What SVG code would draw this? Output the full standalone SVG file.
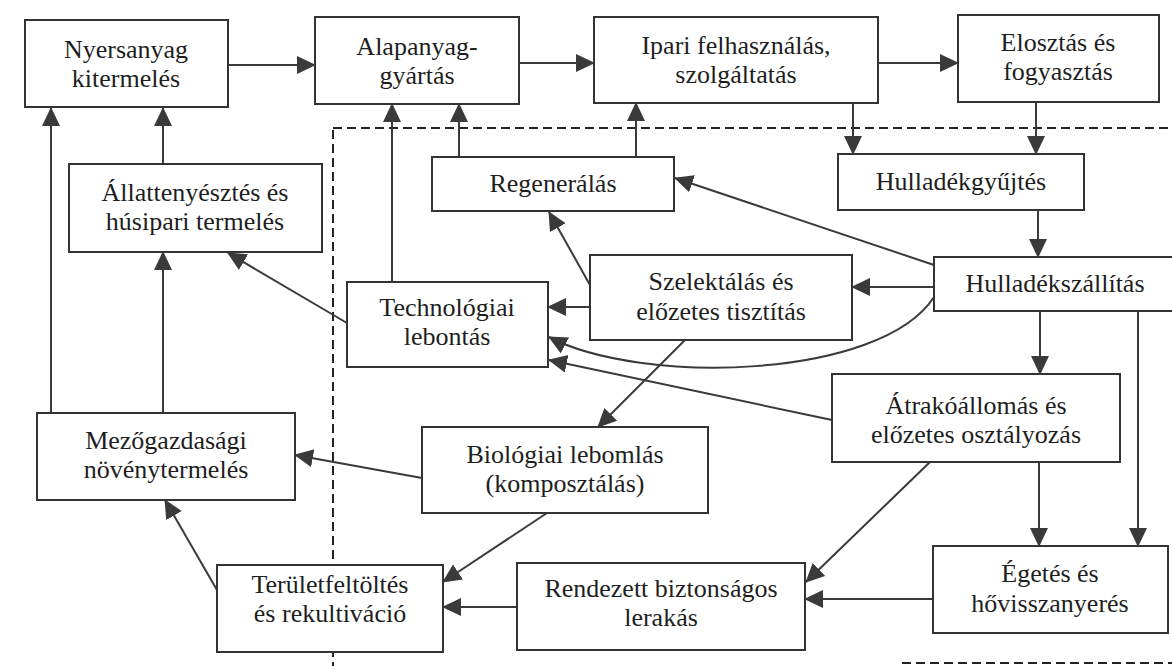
<svg xmlns="http://www.w3.org/2000/svg" width="1172" height="666" viewBox="0 0 1172 666" font-family="'Liberation Serif', 'DejaVu Serif', serif">
<style>
.box{fill:#fff;stroke:#333;stroke-width:2}
text{font-family:'Liberation Serif','DejaVu Serif',serif;font-size:26px;fill:#1e1e1e;text-anchor:middle}
.c{fill:none;stroke:#3a3a3a;stroke-width:2;marker-end:url(#ah)}
.d{fill:none;stroke:#222;stroke-width:2;stroke-dasharray:9 5}
</style>
<defs>
<marker id="ah" markerUnits="userSpaceOnUse" markerWidth="22" markerHeight="20" refX="18" refY="9" orient="auto">
<path d="M0,0 L19,9 L0,18 z" fill="#3a3a3a"/>
</marker>
</defs>
<rect width="1172" height="666" fill="#fff"/>
<g id="boundary">
<path class="d" d="M333,130 L333,666"/>
<path class="d" d="M333,128 L1172,128"/>
<path class="d" d="M902,663 L1172,663"/>
</g>
<g id="connectors">
<path class="c" d="M228,65 L315,65"/>
<path class="c" d="M519,63 L594,63"/>
<path class="c" d="M878,63 L958,63"/>
<path class="c" d="M853,103 L853,154"/>
<path class="c" d="M1036,102 L1036,154"/>
<path class="c" d="M1038,210 L1038,257"/>
<path class="c" d="M934,265 L675,178"/>
<path class="c" d="M934,287 L852,287"/>
<path class="c" d="M934,297 C880,380 640,385 549,337"/>
<path class="c" d="M1040,311 L1040,374"/>
<path class="c" d="M1138,311 L1138,546"/>
<path class="c" d="M459,157 L459,104"/>
<path class="c" d="M636,157 L636,103"/>
<path class="c" d="M590,285 L549,212"/>
<path class="c" d="M590,307 L548,307"/>
<path class="c" d="M685,340 L598,427"/>
<path class="c" d="M392,282 L392,104"/>
<path class="c" d="M347,323 L228,253"/>
<path class="c" d="M832,420 L549,360"/>
<path class="c" d="M1039,462 L1039,546"/>
<path class="c" d="M930,462 L806,582"/>
<path class="c" d="M933,599 L805,599"/>
<path class="c" d="M517,607 L443,607"/>
<path class="c" d="M547,513 L443,582"/>
<path class="c" d="M217,590 L165,500"/>
<path class="c" d="M422,478 L295,455"/>
<path class="c" d="M163,413 L163,252"/>
<path class="c" d="M51,413 L51,108"/>
<path class="c" d="M163,164 L163,108"/>
</g>
<g id="nyersanyag"><rect class="box" x="25" y="20" width="203" height="87"/><text x="126" y="58">Nyersanyag</text><text x="126" y="87">kitermelés</text></g>
<g id="alapanyag"><rect class="box" x="315" y="17" width="204" height="87"/><text x="417" y="55">Alapanyag-</text><text x="417" y="84">gyártás</text></g>
<g id="ipari"><rect class="box" x="594" y="17" width="284" height="86"/><text x="736" y="54">Ipari felhasználás,</text><text x="736" y="83">szolgáltatás</text></g>
<g id="elosztas"><rect class="box" x="958" y="15" width="201" height="87"/><text x="1058" y="51">Elosztás és</text><text x="1058" y="80">fogyasztás</text></g>
<g id="allattenyesztes"><rect class="box" x="69" y="164" width="253" height="88"/><text x="195" y="201">Állattenyésztés és</text><text x="195" y="230">húsipari termelés</text></g>
<g id="regeneralas"><rect class="box" x="432" y="157" width="242" height="54"/><text x="553" y="192">Regenerálás</text></g>
<g id="hulladekgyujtes"><rect class="box" x="838" y="154" width="246" height="56"/><text x="961" y="190">Hulladékgyűjtés</text></g>
<g id="hulladekszallitas"><rect class="box" x="934" y="257" width="245" height="54"/><text x="1055" y="292">Hulladékszállítás</text></g>
<g id="szelektalas"><rect class="box" x="590" y="255" width="262" height="85"/><text x="721" y="290">Szelektálás és</text><text x="721" y="320">előzetes tisztítás</text></g>
<g id="technologiai"><rect class="box" x="347" y="282" width="201" height="85"/><text x="447" y="316">Technológiai</text><text x="447" y="345">lebontás</text></g>
<g id="atrakoallomas"><rect class="box" x="832" y="374" width="288" height="88"/><text x="976" y="414">Átrakóállomás és</text><text x="976" y="443">előzetes osztályozás</text></g>
<g id="mezogazdasagi"><rect class="box" x="37" y="413" width="258" height="87"/><text x="166" y="449">Mezőgazdasági</text><text x="166" y="478">növénytermelés</text></g>
<g id="biologiai"><rect class="box" x="422" y="427" width="286" height="86"/><text x="565" y="463">Biológiai lebomlás</text><text x="565" y="492">(komposztálás)</text></g>
<g id="teruletfeltoltes"><rect class="box" x="217" y="565" width="226" height="87"/><text x="330" y="593">Területfeltöltés</text><text x="330" y="622">és rekultiváció</text></g>
<g id="rendezett"><rect class="box" x="517" y="563" width="288" height="87"/><text x="661" y="597">Rendezett biztonságos</text><text x="661" y="626">lerakás</text></g>
<g id="egetes"><rect class="box" x="933" y="546" width="235" height="87"/><text x="1050" y="582">Égetés és</text><text x="1050" y="612">hővisszanyerés</text></g>
</svg>
